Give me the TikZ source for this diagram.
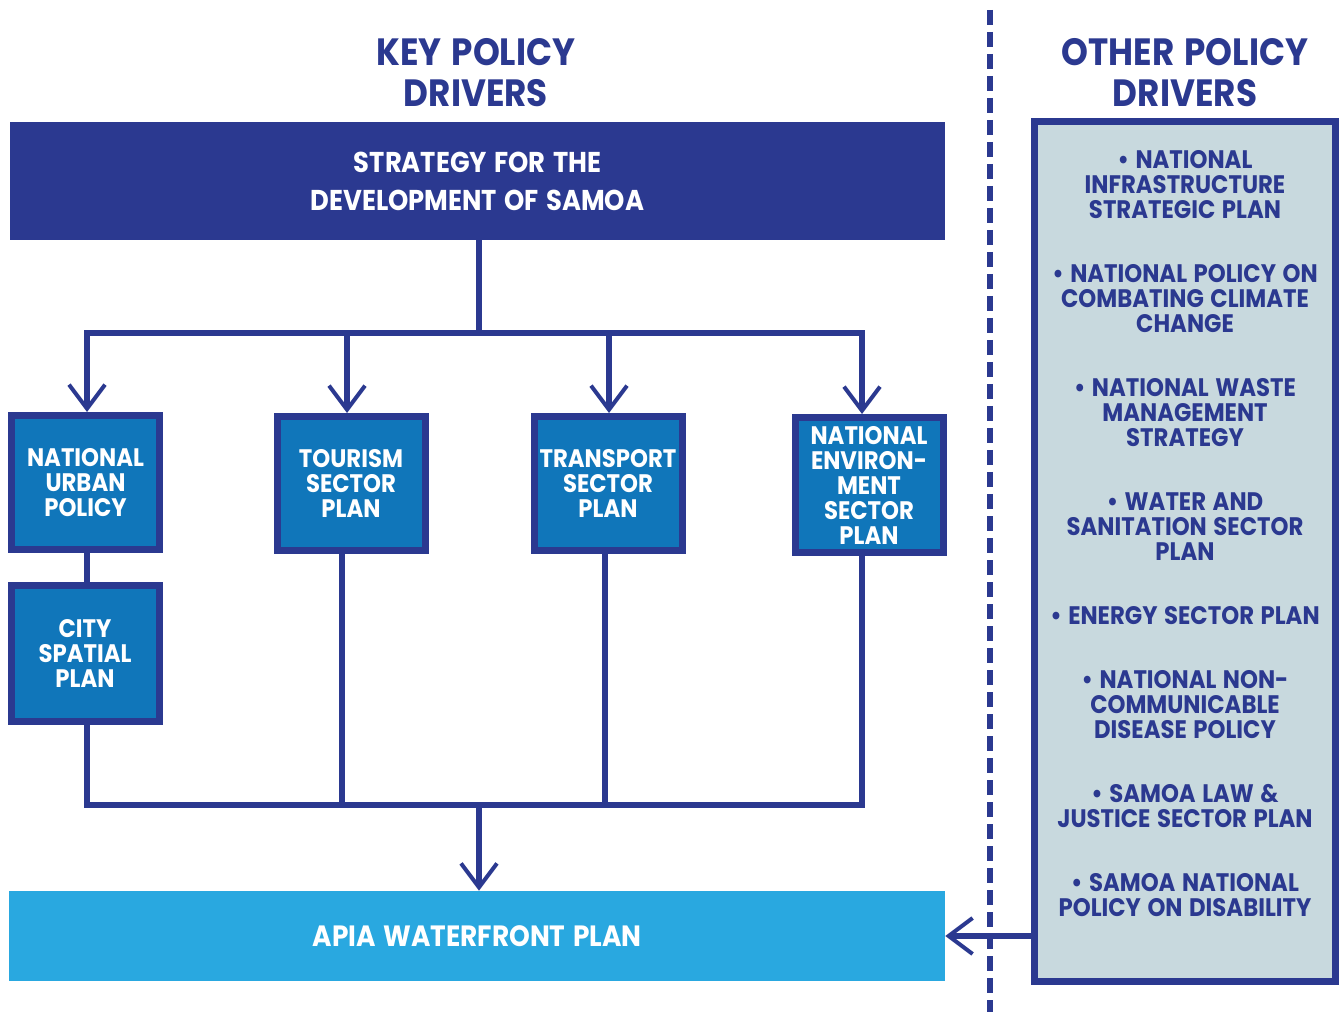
\documentclass[tikz,border=0pt]{standalone}
\usepackage{fontspec}
\setmainfont{Poppins}[FakeStretch=0.9,WordSpace=1.35]
\usetikzlibrary{arrows.meta}
\definecolor{navy}{RGB}{43,57,144}
\definecolor{boxblue}{RGB}{16,118,186}
\definecolor{apiablue}{RGB}{41,168,224}
\definecolor{pale}{RGB}{200,217,222}
\begin{document}
\begin{tikzpicture}[x=0.75pt,y=-0.75pt,
  kbox/.style={draw=navy, line width=5.25pt, fill=boxblue, text=white, align=center,
    minimum width=111pt, minimum height=100.5pt, inner sep=0pt,
    font=\bfseries\fontsize{19}{18.75}\selectfont},
  title/.style={text=navy, align=center, font=\bfseries\fontsize{28.5}{30.75}\selectfont},
  item/.style={text=navy, align=center, inner sep=0pt, font=\bfseries\fontsize{19}{18.75}\selectfont},
  link/.style={draw=navy, line width=4.5pt},
  arr/.style={link, -{Straight Barb[length=18pt,width=27pt,line width=3pt]}},
  dashline/.style={draw=navy, line width=4.5pt, dash pattern=on 11.25pt off 5.25pt}
]
\useasboundingbox (0,0) rectangle (1339,1012);

% titles
\node[title] (keyt) at (476,72.5) {KEY POLICY\\DRIVERS};
\node[title] (othert) at (1185,73) {OTHER POLICY\\DRIVERS};

% top box
\node[fill=navy, text=white, align=center, minimum width=701.25pt, minimum height=88.5pt, inner sep=0pt,
  font=\bfseries\fontsize{21.5}{28.5}\selectfont] (sds) at (477.5,181) {STRATEGY FOR THE\\DEVELOPMENT OF SAMOA};

% key boxes
\node[kbox] (nup) at (85.5,482.5) {NATIONAL\\URBAN\\POLICY};
\node[kbox] (tsp) at (351,483.5) {TOURISM\\SECTOR\\PLAN};
\node[kbox] (trp) at (608,483.5) {TRANSPORT\\SECTOR\\PLAN};
\node[kbox, minimum height=101.25pt] (nes) at (869,485) {NATIONAL\\ENVIRON-\\MENT\\SECTOR\\PLAN};
\node[kbox, minimum height=102pt] (csp) at (85,653.5) {CITY\\SPATIAL\\PLAN};

% bottom box
\node[fill=apiablue, text=white, minimum width=702pt, minimum height=67.5pt, inner sep=0pt,
  font=\bfseries\fontsize{22}{24}\selectfont] (apia) at (477,936) {APIA WATERFRONT PLAN};

% other drivers box
\node[draw=navy, line width=5.25pt, fill=pale, minimum width=225.75pt, minimum height=645pt, inner sep=0pt] (other) at (1185,551.5) {};

\node[item] (o1) at (1185,185) {\textbullet\ NATIONAL\\INFRASTRUCTURE\\STRATEGIC PLAN};
\node[item] (o2) at (1185,299) {\textbullet\ NATIONAL POLICY ON\\COMBATING CLIMATE\\CHANGE};
\node[item] (o3) at (1185,413) {\textbullet\ NATIONAL WASTE\\MANAGEMENT\\STRATEGY};
\node[item] (o4) at (1185,527) {\textbullet\ WATER AND\\SANITATION SECTOR\\PLAN};
\node[item] (o5) at (1185,616) {\textbullet\ ENERGY SECTOR PLAN};
\node[item] (o6) at (1185,705) {\textbullet\ NATIONAL NON-\\COMMUNICABLE\\DISEASE POLICY};
\node[item] (o7) at (1185,806.5) {\textbullet\ SAMOA LAW \&\\JUSTICE SECTOR PLAN};
\node[item] (o8) at (1185,895.5) {\textbullet\ SAMOA NATIONAL\\POLICY ON DISABILITY};

% junction coordinates
\coordinate (tj) at (479,333);
\coordinate (t1) at (87,333);
\coordinate (t2) at (347,333);
\coordinate (t3) at (609,333);
\coordinate (t4) at (862,333);
\coordinate (b1) at (87,805);
\coordinate (b2) at (342,805);
\coordinate (b3) at (605,805);
\coordinate (b4) at (862,805);
\coordinate (bj) at (479,805);

% connectors
\draw[link] (sds.south -| tj) -- (tj);
\draw[link, line cap=rect] (t1) -- (t4);
\draw[arr] (t1) -- (nup.north -| t1);
\draw[arr] (t2) -- (tsp.north -| t2);
\draw[arr] (t3) -- (trp.north -| t3);
\draw[arr] (t4) -- (nes.north -| t4);
\draw[link] (nup.south -| t1) -- (csp.north -| t1);
\draw[link, line join=miter] (csp.south -| b1) -- (b1) -- (b4) -- (nes.south -| b4);
\draw[link] (tsp.south -| b2) -- (b2);
\draw[link] (trp.south -| b3) -- (b3);
\draw[arr] (bj) -- (apia.north -| bj);
\draw[arr] (other.west |- apia.east) -- (apia.east);

% separator
\draw[dashline] (990,10) -- (990,1012);
\end{tikzpicture}
\end{document}
